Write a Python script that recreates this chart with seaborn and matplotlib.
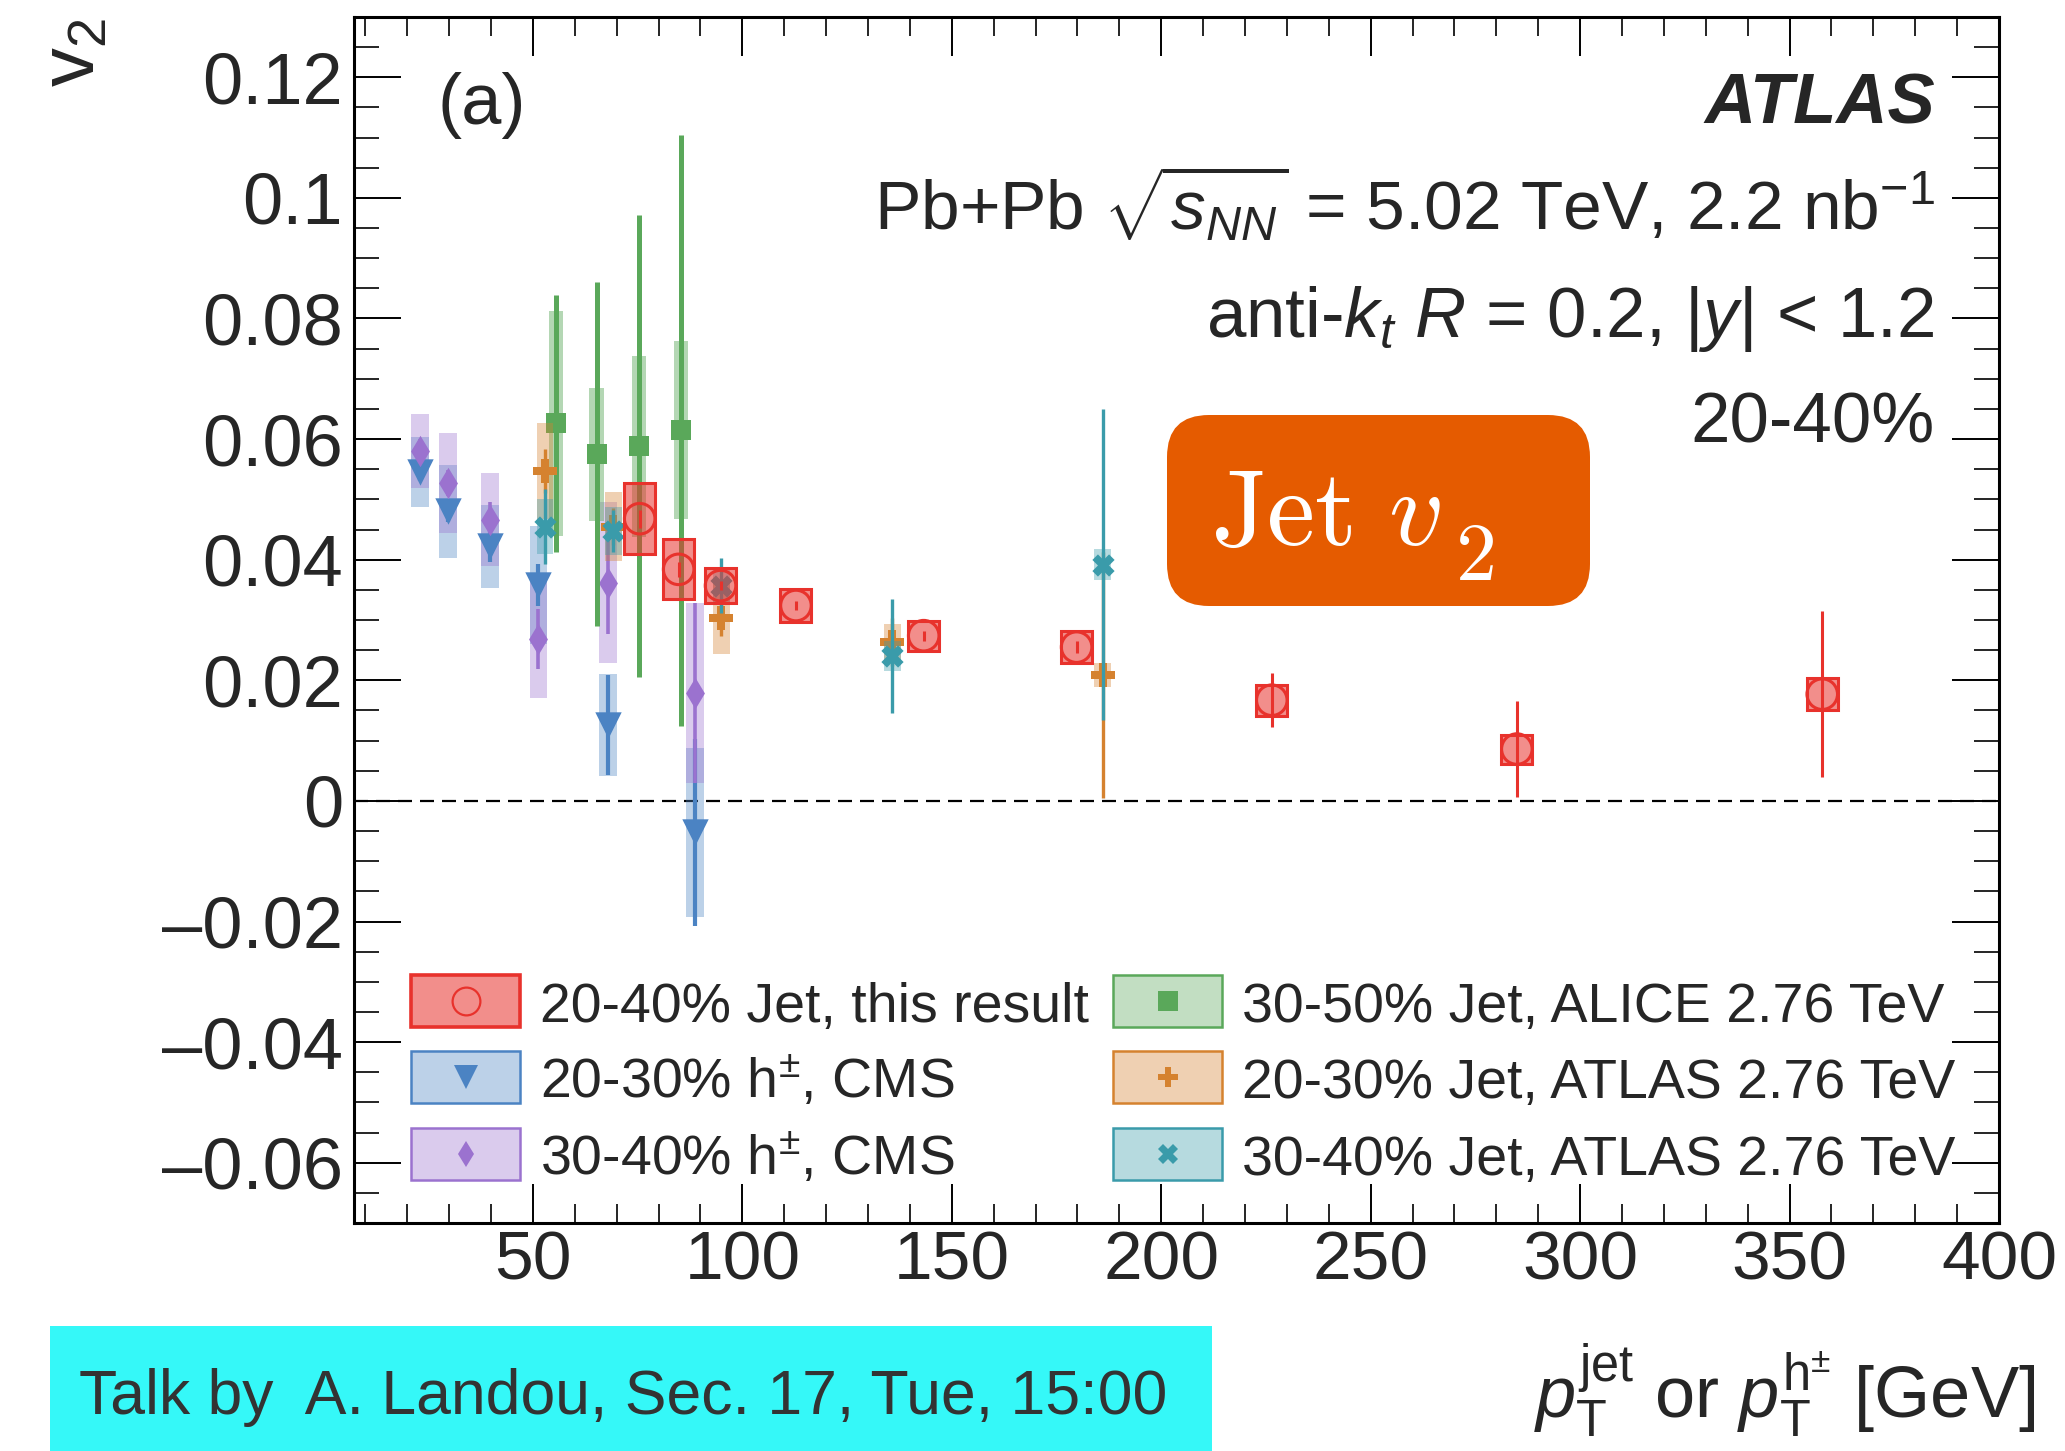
import numpy as np
import pandas as pd
import matplotlib
matplotlib.use("Agg")
import matplotlib.pyplot as plt
from matplotlib.patches import Rectangle, FancyBboxPatch
from matplotlib.ticker import MultipleLocator
from matplotlib.colors import to_rgba
import seaborn as sns

# ---------------- data ----------------
# 20-40% jets, ATLAS Pb+Pb 5.02 TeV (this result)
pt_this = [75.5, 84.8, 94.8, 112.8, 143.3, 179.8, 226.4, 284.9, 357.8]
v2_this = [0.0468, 0.0384, 0.0357, 0.0324, 0.0274, 0.0255, 0.0167, 0.0086, 0.0177]
stat_this = [0.0015, 0.0012, 0.0008, 0.0008, 0.0008, 0.0010, 0.0045, 0.0080, 0.0138]
sys_this = [0.0059, 0.0050, 0.0029, 0.0027, 0.0025, 0.0026, 0.0026, 0.0024, 0.0026]

# charged hadrons, CMS
pt_cms = [23.0, 29.8, 39.7, 51.3, 68.0, 88.7]
v2_cms_2030 = [0.0545, 0.0480, 0.0422, 0.0358, 0.0126, -0.0052]
stat_cms_2030 = [0.0015, 0.0018, 0.0025, 0.0035, 0.0083, 0.0155]
sys_cms_2030 = [0.0058, 0.0077, 0.0069, 0.0098, 0.0085, 0.0140]
v2_cms_3040 = [0.0580, 0.0527, 0.0466, 0.0268, 0.0362, 0.0179]
stat_cms_3040 = [0.0020, 0.0022, 0.0030, 0.0050, 0.0085, 0.0150]
sys_cms_3040 = [0.0061, 0.0083, 0.0077, 0.0098, 0.0133, 0.0150]

# 30-50% jets, ALICE 2.76 TeV
pt_alice = [55.5, 65.2, 75.4, 85.3]
v2_alice = [0.0626, 0.0575, 0.0588, 0.0615]
stat_alice = [0.0213, 0.0285, 0.0383, 0.0490]
sys_alice = [0.0187, 0.0110, 0.0150, 0.0148]

# jets, ATLAS 2.76 TeV
pt_atlas276 = [52.9, 69.2, 95.0, 135.8, 186.0]
v2_atlas_2030 = [0.0547, 0.0455, 0.0304, 0.0264, 0.0209]
stat_atlas_2030 = [0.0037, 0.0030, 0.0030, 0.0040, 0.0204]
sys_atlas_2030 = [0.0080, 0.0057, 0.0060, 0.0030, 0.0020]
v2_atlas_3040 = [0.0455, 0.0448, 0.0357, 0.0240, 0.0392]
stat_atlas_3040 = [0.0062, 0.0035, 0.0045, 0.0094, 0.0258]
sys_atlas_3040 = [0.0045, 0.0040, 0.0030, 0.0025, 0.0025]

legend_labels = [
    "20-40% Jet, this result",
    "20-30% h$^{\\pm}$, CMS",
    "30-40% h$^{\\pm}$, CMS",
    "30-50% Jet, ALICE 2.76 TeV",
    "20-30% Jet, ATLAS 2.76 TeV",
    "30-40% Jet, ATLAS 2.76 TeV",
]

xtick_vals = [50, 100, 150, 200, 250, 300, 350, 400]
xtick_labels = ["50", "100", "150", "200", "250", "300", "350", "400"]
ytick_vals = [-0.06, -0.04, -0.02, 0.0, 0.02, 0.04, 0.06, 0.08, 0.10, 0.12]
ytick_labels = ["\u20130.06", "\u20130.04", "\u20130.02", "0", "0.02", "0.04",
                "0.06", "0.08", "0.1", "0.12"]

# ---------------- style ----------------
sns.set_theme(style="ticks")
plt.rcParams["font.family"] = ["Liberation Sans", "DejaVu Sans"]
plt.rcParams["mathtext.fontset"] = "custom"
plt.rcParams["mathtext.rm"] = "Liberation Sans"
plt.rcParams["mathtext.it"] = "Liberation Sans:italic"
plt.rcParams["mathtext.bf"] = "Liberation Sans:bold"
plt.rcParams["axes.linewidth"] = 2.2

RED = "#E8322C"
BLUE = "#4B83C3"
PURPLE = "#9B72CF"
GREEN = "#5AA85A"
ORANGE = "#D5822F"
TEAL = "#3A9BAA"

W, H = 2065, 1451
fig = plt.figure(figsize=(W / 100, H / 100), dpi=100)
fig.patch.set_facecolor("white")
AX_L, AX_R, AX_T, AX_B = 354, 1999, 17, 1223
ax = fig.add_axes([AX_L / W, 1 - AX_B / H, (AX_R - AX_L) / W, (AX_B - AX_T) / H])
ax.set_facecolor("white")


def draw_series(x, y, stat, sys, color, half_width, marker, msize, z,
                box_alpha=0.37, box_edge=None, stat_lw=2.5, hollow=False):
    x = np.asarray(x, float)
    y = np.asarray(y, float)
    stat = np.asarray(stat, float)
    sys = np.asarray(sys, float)
    ax.bar(x, 2 * sys, bottom=y - sys, width=2 * half_width,
           facecolor=to_rgba(color, box_alpha),
           edgecolor=box_edge if box_edge else "none",
           linewidth=2.2 if box_edge else 0, zorder=z)
    ax.errorbar(x, y, yerr=stat, fmt="none", ecolor=color,
                elinewidth=stat_lw, capsize=0, zorder=z + 0.5)
    df = pd.DataFrame({"pt": x, "v2": y})
    if hollow:
        sns.scatterplot(data=df, x="pt", y="v2", ax=ax, marker=marker,
                        s=msize ** 2, color=color, facecolors="none",
                        edgecolor=color, linewidth=2.2, zorder=z + 1,
                        legend=False)
    else:
        sns.scatterplot(data=df, x="pt", y="v2", ax=ax, marker=marker,
                        s=msize ** 2, color=color, linewidth=0,
                        zorder=z + 1, legend=False)


draw_series(pt_cms, v2_cms_2030, stat_cms_2030, sys_cms_2030, BLUE, 2.1, "v", 19, 2, stat_lw=3.0)
draw_series(pt_cms, v2_cms_3040, stat_cms_3040, sys_cms_3040, PURPLE, 2.1, "d", 16, 2.2, stat_lw=2.6)
draw_series(pt_alice, v2_alice, stat_alice, sys_alice, GREEN, 1.7, "s", 15, 4, stat_lw=3.6, box_alpha=0.45)
draw_series(pt_atlas276, v2_atlas_2030, stat_atlas_2030, sys_atlas_2030, ORANGE, 2.0, "P", 17, 5, stat_lw=2.4)
draw_series(pt_atlas276, v2_atlas_3040, stat_atlas_3040, sys_atlas_3040, TEAL, 2.0, "X", 16, 6, stat_lw=2.4)
draw_series(pt_this, v2_this, stat_this, sys_this, RED, 3.7, "o", 22, 9,
            box_alpha=0.55, box_edge=RED, stat_lw=2.2, hollow=True)

ax.axhline(0, color="black", lw=1.6, ls=(0, (6.3, 3.6)), zorder=1)

# ---------------- axes ----------------
ax.set_xlim(7.3, 400)
ax.set_ylim(-0.07, 0.13)
ax.set_xticks(xtick_vals, xtick_labels)
ax.set_yticks(ytick_vals, ytick_labels)
ax.xaxis.set_minor_locator(MultipleLocator(10))
ax.yaxis.set_minor_locator(MultipleLocator(0.005))
ax.set_xlabel("")
ax.set_ylabel("")
ax.tick_params(axis="both", which="both", direction="in", top=True, right=True,
               color="black")
ax.tick_params(axis="y", which="major", length=34, width=1.4, labelsize=52, pad=8)
ax.tick_params(axis="y", which="minor", length=18, width=1.2)
ax.tick_params(axis="x", which="major", length=28, width=1.4, labelsize=50, pad=5)
ax.tick_params(axis="x", which="minor", length=14, width=1.2)
for s in ax.spines.values():
    s.set_linewidth(2.2)
    s.set_color("black")


def fx(px):
    return (px - AX_L) / (AX_R - AX_L)


def fy(py):
    return (AX_B - py) / (AX_B - AX_T)


# ---------------- annotations ----------------
ax.text(fx(438), fy(124), "(a)", transform=ax.transAxes, fontsize=52,
        ha="left", va="baseline")
RX = fx(1935)
ax.text(RX, fy(123), "ATLAS", transform=ax.transAxes, fontsize=51,
        fontweight="bold", fontstyle="italic", ha="right", va="baseline")
ax.text(RX, fy(230), r"Pb+Pb $\sqrt{s_{NN}}$ = 5.02 TeV, 2.2 nb$^{\mathregular{-1}}$",
        transform=ax.transAxes, fontsize=50, ha="right", va="baseline")
ax.text(RX, fy(337), r"anti-$k_{t}$ $R$ = 0.2, $|y|$ < 1.2",
        transform=ax.transAxes, fontsize=51, ha="right", va="baseline")
ax.text(RX, fy(443), "20-40%", transform=ax.transAxes, fontsize=51,
        ha="right", va="baseline")

# ---------------- legend ----------------
entries = [
    (RED, "o", 20, True),
    (BLUE, "v", 17, False),
    (PURPLE, "d", 13, False),
    (GREEN, "s", 15, False),
    (ORANGE, "P", 15, False),
    (TEAL, "X", 14, False),
]
row_centres = [1001, 1077, 1154]
col_patch_left = [411, 1113]
col_text_left = [540, 1242]
PW, PH = 109, 52
for i, (col, mk, ms, hollow) in enumerate(entries):
    c, r = divmod(i, 3)
    yc = row_centres[r]
    x0 = col_patch_left[c]
    fill = to_rgba(col, 0.55 if hollow else 0.37)
    ax.add_patch(Rectangle((fx(x0), fy(yc + PH / 2)), PW / (AX_R - AX_L),
                           PH / (AX_B - AX_T), transform=ax.transAxes,
                           facecolor=fill, edgecolor=col,
                           linewidth=2.6 if hollow else 1.8,
                           clip_on=False, zorder=30))
    ax.plot([fx(x0 + PW / 2)], [fy(yc)], transform=ax.transAxes, marker=mk,
            ms=ms, mfc="none" if hollow else col, mec=col,
            mew=1.6 if hollow else 0, ls="none", clip_on=False, zorder=31)
    ax.text(fx(col_text_left[c]), fy(yc + 21), legend_labels[i],
            transform=ax.transAxes, fontsize=40,
            ha="left", va="baseline", zorder=31)

# ---------------- axis titles ----------------
fig.text(38 / W, 1 - 18 / H, "v$_{\\mathregular{2}}$", rotation=90, fontsize=56,
         ha="left", va="top")
fig.text(2035 / W, 1 - 1418 / H,
         r"$p_{\mathrm{T}}^{\mathrm{jet}}$ or $p_{\mathrm{T}}^{\mathrm{h}^{\pm}}$ [GeV]",
         fontsize=52, ha="right", va="baseline")

# ---------------- boxes ----------------
fig.add_artist(Rectangle((50 / W, 0), 1162 / W, 125 / H, transform=fig.transFigure,
                         facecolor="#35F8F8", edgecolor="none", zorder=0))
fig.text(79 / W, 1 - 1414 / H, "Talk by  A. Landou, Sec. 17, Tue, 15:00",
         fontsize=45, color="#333333", ha="left", va="baseline", zorder=1)

fig.add_artist(FancyBboxPatch((11.67, (H - 606) / 100), 4.23, 1.91,
                              boxstyle="round,pad=0,rounding_size=0.42",
                              transform=fig.dpi_scale_trans,
                              facecolor="#E55B00", edgecolor="none", zorder=20))
fig.text(1211 / W, 1 - 545 / H, r"$\mathrm{Jet}\ v$", math_fontfamily="cm",
         color="white", fontsize=78, ha="left", va="baseline", zorder=21)
fig.text(1455 / W, 1 - 580 / H, r"$\mathrm{2}$", math_fontfamily="cm",
         color="white", fontsize=59, ha="left", va="baseline", zorder=21)

fig.savefig("out.png", dpi=100, facecolor="white")
